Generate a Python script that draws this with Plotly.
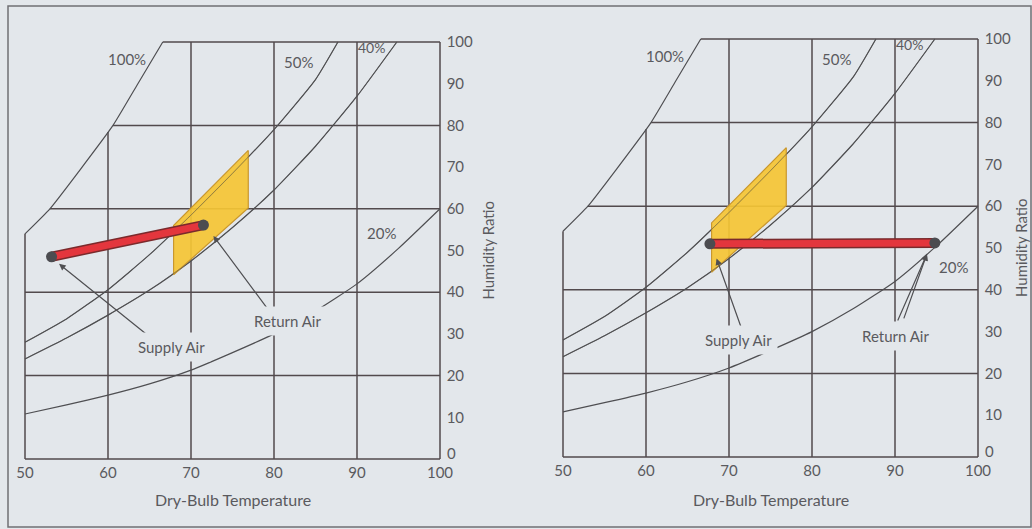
import numpy as np
import plotly.graph_objects as go

# ---------------- data ----------------
TEMP_TICKS = [50, 60, 70, 80, 90, 100]
HUM_TICKS = [0, 10, 20, 30, 40, 50, 60, 70, 80, 90, 100]
GRID_TEMPS = [60, 70, 80, 90]
GRID_HUMS = [20, 40, 60, 80]

SAT_T = [50, 53, 56.5, 60.6, 63.6, 66.6]          # 100% RH
SAT_W = [54, 60, 69, 80, 90, 100]
RH50_T = [50, 55, 60, 65, 70, 75, 80, 85, 87.7]
RH50_W = [28, 33.6, 40.6, 49, 58.5, 68.5, 79, 91, 100]
RH40_T = [50, 55, 60, 65, 70, 75, 80, 85, 90, 94.8]
RH40_W = [24, 29, 34.5, 40.5, 47.5, 55.5, 64.5, 75, 87, 100]
RH20_T = [50, 55, 60, 65, 70, 75, 80, 85, 90, 95, 100]
RH20_W = [10.8, 13, 15.3, 18, 21.3, 25.5, 30, 35.5, 42, 50.5, 60]

ZONE_T = [67.9, 76.9, 76.9, 67.9, 67.9]
ZONE_W = [44.2, 60.2, 74, 56, 44.2]

LEFT_PROCESS_T = [53.2, 71.5]     # supply -> return
LEFT_PROCESS_W = [48.5, 56.1]
RIGHT_PROCESS_T = [67.7, 94.8]
RIGHT_PROCESS_W = [51.0, 51.2]

# ---------------- styling ----------------
BG = "#e3e7eb"
INK = "#4f4f52"
TXT = "#5a5a5e"
FONT = "Lato"
W_PX, H_PX = 1032, 529
XR = [49.8, 100.2]
YR = [-0.5, 100.5]

def domains(px50, px100, py0, py100):
    sx = (px100 - px50) / 50.0
    sy = (py0 - py100) / 100.0
    x0 = px50 + (XR[0] - 50) * sx
    x1 = px50 + (XR[1] - 50) * sx
    ytop = py100 - (YR[1] - 100) * sy
    ybot = py0 - (YR[0] - 0) * sy
    return [x0 / W_PX, x1 / W_PX], [1 - ybot / H_PX, 1 - ytop / H_PX]

panels = [
    dict(xa="x", ya="y", dom=domains(25, 440, 459, 42),
         pt=LEFT_PROCESS_T, pw=LEFT_PROCESS_W,
         lab20=(93.0, 54.2), sup_lab=(67.6, 26.9), ret_lab=(81.6, 33.1),
         sup_arrows=[((54.1, 46.8), (64.7, 29.8))],
         ret_arrows=[((72.7, 53.5), (79.3, 35.8))]),
    dict(xa="x2", ya="y2", dom=domains(563, 978, 457, 39),
         pt=RIGHT_PROCESS_T, pw=RIGHT_PROCESS_W,
         lab20=(97.0, 45.5), sup_lab=(71.1, 28.0), ret_lab=(90.0, 28.9),
         sup_arrows=[((68.5, 47.5), (71.5, 30.8))],
         ret_arrows=[((93.85, 48.6), (90.25, 32.3)), ((93.85, 48.6), (91.0, 32.8))]),
]

fig = go.Figure()
annotations = []

for i, p in enumerate(panels):
    xa, ya = p["xa"], p["ya"]
    # frame + grid lines, bounded by the saturation curve
    gx, gy = [], []
    gx += [TEMP_TICKS[0], TEMP_TICKS[-1], None]; gy += [HUM_TICKS[0], HUM_TICKS[0], None]
    gx += [TEMP_TICKS[-1], TEMP_TICKS[-1], None]; gy += [HUM_TICKS[0], HUM_TICKS[-1], None]
    gx += [SAT_T[-1], TEMP_TICKS[-1], None]; gy += [HUM_TICKS[-1], HUM_TICKS[-1], None]
    gx += [TEMP_TICKS[0], TEMP_TICKS[0], None]; gy += [HUM_TICKS[0], SAT_W[0], None]
    for h in GRID_HUMS:
        xs = TEMP_TICKS[0] if h <= SAT_W[0] else float(np.interp(h, SAT_W, SAT_T))
        gx += [xs, TEMP_TICKS[-1], None]; gy += [h, h, None]
    for t in GRID_TEMPS:
        ye = HUM_TICKS[-1] if t >= SAT_T[-1] else float(np.interp(t, SAT_T, SAT_W))
        gx += [t, t, None]; gy += [HUM_TICKS[0], ye, None]
    fig.add_trace(go.Scatter(x=gx, y=gy, mode="lines", xaxis=xa, yaxis=ya,
                             line=dict(color="#524a4d", width=1.5), hoverinfo="skip"))
    # RH curves
    for ct, cw in [(SAT_T, SAT_W), (RH50_T, RH50_W), (RH40_T, RH40_W), (RH20_T, RH20_W)]:
        fig.add_trace(go.Scatter(x=ct, y=cw, mode="lines", xaxis=xa, yaxis=ya,
                                 line=dict(color=INK, width=1.2, shape="spline", smoothing=0.5),
                                 hoverinfo="skip"))
    # comfort zone
    fig.add_trace(go.Scatter(x=ZONE_T, y=ZONE_W, mode="lines", fill="toself", xaxis=xa, yaxis=ya,
                             fillcolor="rgba(245,198,52,0.92)",
                             line=dict(color="#c9972e", width=1.2), hoverinfo="skip"))
    # curves visible through the zone
    for ct, cw in [(RH50_T, RH50_W), (RH40_T, RH40_W)]:
        fig.add_trace(go.Scatter(x=ct, y=cw, mode="lines", xaxis=xa, yaxis=ya,
                                 line=dict(color="rgba(80,80,80,0.55)", width=1.0,
                                           shape="spline", smoothing=0.5),
                                 hoverinfo="skip"))
    # process line
    fig.add_trace(go.Scatter(x=p["pt"], y=p["pw"], mode="lines", xaxis=xa, yaxis=ya,
                             line=dict(color="#7a2a2c", width=10), hoverinfo="skip"))
    fig.add_trace(go.Scatter(x=p["pt"], y=p["pw"], mode="lines+markers", xaxis=xa, yaxis=ya,
                             line=dict(color="#e3363d", width=7),
                             marker=dict(size=11, color="#4c4c50"), hoverinfo="skip"))

    xref, yref = xa, ya
    lab = dict(xref=xref, yref=yref, showarrow=False, xanchor="center", yanchor="middle",
               font=dict(family=FONT, size=15, color=TXT))
    annotations += [
        dict(lab, x=62.3, y=96, text="100%"),
        dict(lab, x=83.0, y=95.3, text="50%"),
        dict(lab, x=91.8, y=98.6, text="40%", font=dict(family=FONT, size=14, color=TXT)),
        dict(lab, x=p["lab20"][0], y=p["lab20"][1], text="20%"),
    ]
    for tip, tail in p["sup_arrows"] + p["ret_arrows"]:
        annotations.append(dict(xref=xref, yref=yref, x=tip[0], y=tip[1], ax=tail[0], ay=tail[1],
                                axref=xref, ayref=yref, text="", showarrow=True,
                                arrowhead=2, arrowsize=1.1, arrowwidth=1.2, arrowcolor=INK))
    annotations += [
        dict(lab, x=p["sup_lab"][0], y=p["sup_lab"][1], text="Supply Air", bgcolor=BG, borderpad=5),
        dict(lab, x=p["ret_lab"][0], y=p["ret_lab"][1], text="Return Air", bgcolor=BG, borderpad=5),
    ]
    # the "0" humidity tick label sits slightly above its gridline in the reference
    annotations.append(dict(xref=xref, yref=yref, x=100, y=HUM_TICKS[0], text=str(HUM_TICKS[0]),
                            showarrow=False, xanchor="left", yanchor="middle", xshift=5, yshift=6,
                            font=dict(family=FONT, size=15, color=TXT)))
    # axis titles
    xd, yd = p["dom"]
    annotations.append(dict(xref="paper", yref="paper", x=(xd[0] + xd[1]) / 2, y=1 - 499 / H_PX,
                            xanchor="center", yanchor="middle",
                            text="Dry-Bulb Temperature", showarrow=False,
                            font=dict(family=FONT, size=16, color=TXT)))
    annotations.append(dict(xref="paper", yref="paper",
                            x=(488 if i == 0 else 1021) / W_PX, y=(yd[0] + yd[1]) / 2,
                            xanchor="center", yanchor="middle",
                            text="Humidity Ratio", textangle=-90, showarrow=False,
                            font=dict(family=FONT, size=15, color=TXT)))

axis_common = dict(showgrid=False, zeroline=False, showline=False, ticks="",
                   tickfont=dict(family=FONT, size=15, color=TXT), fixedrange=True,
                   automargin=False)

layout = dict(width=W_PX, height=H_PX,
              margin=dict(l=0, r=0, t=0, b=0, pad=0, autoexpand=False),
              paper_bgcolor=BG, plot_bgcolor="rgba(0,0,0,0)", showlegend=False,
              annotations=annotations,
              shapes=[dict(type="rect", xref="paper", yref="paper",
                           x0=8 / W_PX, x1=1031 / W_PX, y0=1 - 527 / H_PX, y1=1 - 6 / H_PX,
                           line=dict(color="#707074", width=1.5))])
for i, p in enumerate(panels):
    xd, yd = p["dom"]
    xk = "xaxis" if i == 0 else "xaxis2"
    yk = "yaxis" if i == 0 else "yaxis2"
    layout[xk] = dict(axis_common, domain=xd, range=XR, tickvals=TEMP_TICKS,
                      anchor=p["ya"], ticklabelstandoff=1)
    layout[yk] = dict(axis_common, domain=yd, range=YR, tickvals=HUM_TICKS[1:],
                      anchor=p["xa"], side="right", ticklabelstandoff=4)

fig.update_layout(**layout)
fig.write_html("out.html", config={"displayModeBar": False, "staticPlot": True},
               post_script="document.body.style.margin='0';document.body.style.background='%s';" % BG)
